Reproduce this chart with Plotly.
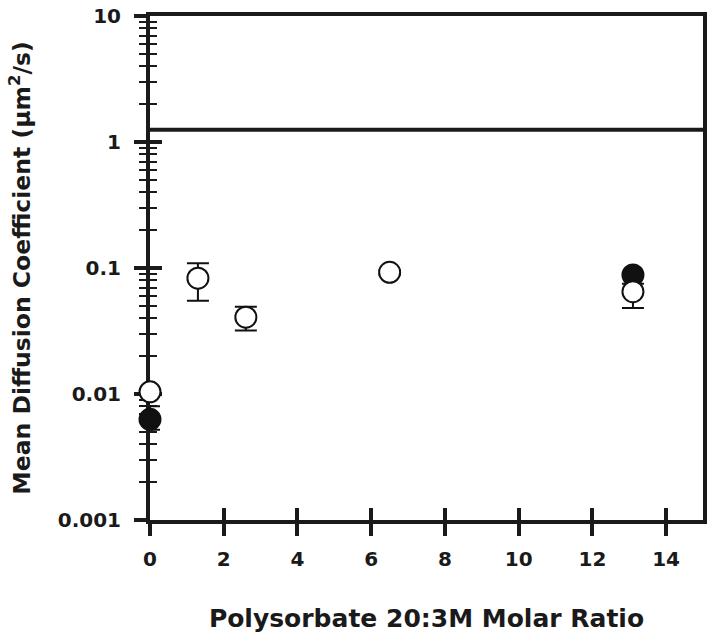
import plotly.graph_objects as go

# Data
open_x = [0.0, 1.3, 2.6, 6.5, 13.1]
open_y = [0.0104, 0.083, 0.0407, 0.0924, 0.0649]
open_err_plus = [0.0005, 0.026, 0.0086, 0.004, 0.01]
open_err_minus = [0.0005, 0.028, 0.0088, 0.004, 0.0167]

filled_x = [0.0, 13.1]
filled_y = [0.0063, 0.088]
filled_err_plus = [0.0017, 0.004]
filled_err_minus = [0.0011, 0.004]

ref_x = [0, 15]
ref_value = 1.25

x_tickvals = [0, 2, 4, 6, 8, 10, 12, 14]
y_major = [0.001, 0.01, 0.1, 1, 10]
y_major_text = ["0.001", "0.01", "0.1", "1", "10"]
y_minor = [m * d for d in [0.001, 0.01, 0.1, 1] for m in range(2, 10)]

FONT = "DejaVu Sans, sans-serif"
INK = "#1a1a1a"

fig = go.Figure()

fig.add_trace(go.Scatter(
    x=ref_x, y=[ref_value, ref_value], mode="lines",
    line=dict(color=INK, width=4), showlegend=False, hoverinfo="skip",
    cliponaxis=False,
))

fig.add_trace(go.Scatter(
    x=filled_x, y=filled_y, mode="markers",
    marker=dict(symbol="circle", size=21, color="#111111",
                line=dict(color="#111111", width=2)),
    error_y=dict(type="data", array=filled_err_plus, arrayminus=filled_err_minus,
                 color="#111111", thickness=2, width=10),
    showlegend=False, cliponaxis=False,
))

fig.add_trace(go.Scatter(
    x=open_x, y=open_y, mode="markers",
    marker=dict(symbol="circle", size=21, color="white",
                line=dict(color="#111111", width=2)),
    error_y=dict(type="data", array=open_err_plus, arrayminus=open_err_minus,
                 color="#111111", thickness=2, width=11),
    showlegend=False, cliponaxis=False,
))

# invisible trace for overlay axes (inside ticks)
fig.add_trace(go.Scatter(x=[None], y=[None], xaxis="x2", yaxis="y2",
                         showlegend=False, hoverinfo="skip"))

fig.update_layout(
    width=714, height=643,
    margin=dict(l=150, r=11, t=16, b=123, autoexpand=False),
    paper_bgcolor="white", plot_bgcolor="white",
    font=dict(family=FONT, color=INK),
    xaxis=dict(
        range=[0, 15], tickmode="array", tickvals=x_tickvals,
        ticks="outside", ticklen=12, tickwidth=4, tickcolor=INK,
        showline=True, linewidth=4, linecolor=INK, mirror=True,
        showgrid=False, zeroline=False, layer="below traces",
        automargin=False, ticklabeloverflow="allow",
        tickfont=dict(size=20, family=FONT, weight="bold"),
        ticklabelstandoff=6,
        title=dict(text="Polysorbate 20:3M Molar Ratio",
                   font=dict(size=25, family=FONT, weight="bold"), standoff=40),
    ),
    yaxis=dict(
        type="log", range=[-3, 1], tickmode="array",
        tickvals=y_major, ticktext=y_major_text,
        ticks="outside", ticklen=12, tickwidth=4, tickcolor=INK,
        minor=dict(tickmode="array", tickvals=y_minor, ticks="outside",
                   ticklen=7, tickwidth=2, tickcolor=INK, showgrid=False),
        showline=True, linewidth=4, linecolor=INK, mirror=True,
        showgrid=False, zeroline=False, layer="below traces",
        automargin=False, ticklabeloverflow="allow",
        tickfont=dict(size=20, family=FONT, weight="bold"),
        ticklabelstandoff=9,
        title=dict(text="Mean Diffusion Coefficient (µm<sup>2</sup>/s)",
                   font=dict(size=23.5, family=FONT, weight="bold"), standoff=22),
    ),
    xaxis2=dict(
        range=[0, 15], overlaying="x", anchor="y2", side="bottom",
        tickmode="array", tickvals=x_tickvals,
        ticks="inside", ticklen=12, tickwidth=4, tickcolor=INK,
        showticklabels=False, showline=False, showgrid=False, zeroline=False,
        layer="below traces", automargin=False,
    ),
    yaxis2=dict(
        type="log", range=[-3, 1], overlaying="y", anchor="x2", side="left",
        tickmode="array", tickvals=y_major,
        ticks="inside", ticklen=12, tickwidth=4, tickcolor=INK,
        minor=dict(tickmode="array", tickvals=y_minor, ticks="inside",
                   ticklen=7, tickwidth=2, tickcolor=INK, showgrid=False),
        showticklabels=False, showline=False, showgrid=False, zeroline=False,
        layer="below traces", automargin=False,
    ),
)

fig.write_html("out.html",
               config={"displayModeBar": False},
               post_script="document.body.style.margin='0';document.body.style.overflow='hidden';")
